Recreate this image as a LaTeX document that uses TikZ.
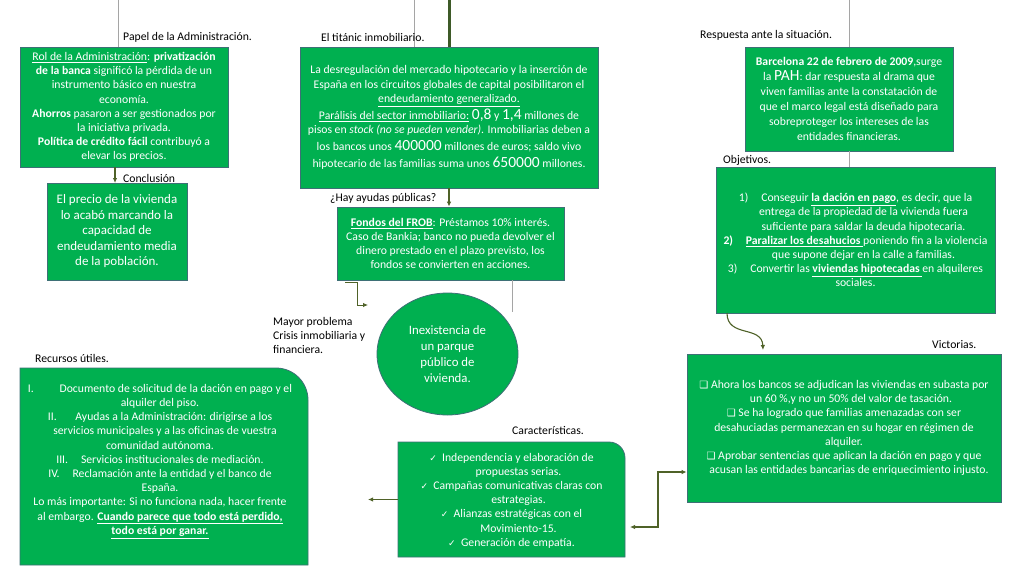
\documentclass[tikz,border=0pt]{standalone}
\usepackage{fontspec}
\setmainfont{Carlito}
\newfontfamily\symfont{DejaVu Sans}
\usetikzlibrary{arrows.meta,shapes.geometric,calc}
\definecolor{boxgreen}{HTML}{00B050}
\definecolor{boxedge}{RGB}{62,112,118}
\definecolor{arrowgreen}{RGB}{79,98,40}
\definecolor{thinline}{RGB}{165,165,165}
\definecolor{thickline}{RGB}{62,90,40}
\newcommand{\bignum}[1]{{\fontsize{15.5}{14}\selectfont #1}}
\newcommand{\chk}{{\symfont\fontsize{9}{9}\selectfont ✓}}
\newcommand{\sqb}{{\symfont\fontsize{10}{10}\selectfont ❑}}
\begin{document}
\begin{tikzpicture}[x=1pt,y=-1pt,
 gbox/.style={draw=boxedge, line width=0.8pt, fill=boxgreen, text=white, align=center, inner sep=0pt, font=\fontsize{11.7}{14.2}\selectfont},
 gtext/.style={text=white, align=center, inner sep=0pt, font=\fontsize{11.7}{14.2}\selectfont},
 gshape/.style={draw=boxedge, line width=0.8pt, fill=boxgreen},
 lbl/.style={anchor=west, inner sep=0pt, font=\fontsize{11.7}{14}\selectfont, text=black, align=left},
 arr/.style={draw=arrowgreen, line width=1.1pt, -{Latex[length=5pt,width=4.5pt]}},
 darr/.style={draw=arrowgreen, line width=1.1pt, {Latex[length=5pt,width=4.5pt]}-{Latex[length=5pt,width=4.5pt]}},
 gline/.style={draw=thinline, line width=1pt},
]
\useasboundingbox[fill=white] (0,0) rectangle (1024,576);

% free-end coordinates
\coordinate (topA) at (118,0);
\coordinate (topB) at (414,0);
\coordinate (topC) at (449,0);
\coordinate (topD) at (849,0);

% top thin lines (behind boxes)
\draw[gline] (topA) -- (118,47);
\draw[gline] (topB) -- (414,47);
\draw[gline] (topD) -- (849,47);
\draw[draw=thickline, line width=3pt] (topC) -- (449,47);

% Box 1
\node[gbox, minimum width=208pt, minimum height=120pt] (rol) at (124,107)
{\underline{Rol de la Administración}: \textbf{privatización}\\
\textbf{de la banca} significó la pérdida de un\\
instrumento básico en nuestra\\
economía.\\
\textbf{Ahorros} pasaron a ser gestionados por\\
la iniciativa privada.\\
\textbf{Política de crédito fácil} contribuyó a\\
elevar los precios.};

% Conclusion
\node[gbox, minimum width=140pt, minimum height=97pt, font=\fontsize{13}{15.5}\selectfont] (concl) at (117,231.5)
{El precio de la vivienda\\
lo acabó marcando la\\
capacidad de\\
endeudamiento media\\
de la población.};

% Middle box
\node[gbox, minimum width=298pt, minimum height=141pt] (mid) at (449,117.5)
{La desregulación del mercado hipotecario y la inserción de\\[1pt]
España en los circuitos globales de capital posibilitaron el\\
\underline{endeudamiento generalizado.}\\[1pt]
\underline{Parálisis del sector inmobiliario:} \bignum{0,8} y \bignum{1,4} millones de\\
pisos en \textit{stock (no se pueden vender)}. Inmobiliarias deben a\\[3pt]
los bancos unos \bignum{400000} millones de euros; saldo vivo\\[3pt]
hipotecario de las familias suma unos \bignum{650000} millones.};

% FROB
\node[gbox, minimum width=227pt, minimum height=73pt] (frob) at (450.5,243.5)
{\underline{\textbf{Fondos del FROB}}: Préstamos 10\% interés.\\
Caso de Bankia; banco no pueda devolver el\\
dinero prestado en el plazo previsto, los\\
fondos se convierten en acciones.};

% PAH
\node[gbox, minimum width=208pt, minimum height=104pt, font=\fontsize{11.7}{15}\selectfont] (pah) at (849,99)
{\textbf{Barcelona 22 de febrero de 2009},surge\\
la \bignum{PAH}: dar respuesta al drama que\\
viven familias ante la constatación de\\
que el marco legal está diseñado para\\
sobreproteger los intereses de las\\
entidades financieras.};

% Objectives
\node[gbox, minimum width=279pt, minimum height=146pt] (obj) at (855.5,240)
{1)\hspace{1.1em}Conseguir \underline{\textbf{la dación en pago}}, es decir, que la\\
\hspace*{16pt}entrega de la propiedad de la vivienda fuera\\
\hspace*{16pt}suficiente para saldar la deuda hipotecaria.\\
\textbf{2)\hspace{1.1em}\underline{Paralizar los desahucios }}poniendo fin a la violencia\\
\hspace*{16pt}que supone dejar en la calle a familias.\\
3)\hspace{1.1em}Convertir las \underline{\textbf{viviendas hipotecadas }}en alquileres\\
sociales.};

% Ellipse
\node[gbox, ellipse, minimum width=141pt, minimum height=122pt, font=\fontsize{12.8}{16}\selectfont] (ell) at (447.5,354)
{Inexistencia de\\un parque\\público de\\vivienda.};

% Recursos (rounded top-right corner)
\draw[gshape] (20,565) -- (20,368) [rounded corners=32pt] -- (308,368) [sharp corners] -- (308,565) -- cycle;
\node[gtext, anchor=north] (rec) at (160,384)
{I.\hspace{2.2em}Documento de solicitud de la dación en pago y el\\
alquiler del piso.\\
II.\hspace{1.6em}Ayudas a la Administración: dirigirse a los\\
\hspace*{10pt}servicios municipales y a las oficinas de vuestra\\
comunidad autónoma.\\
III.\hspace{1.1em}Servicios institucionales de mediación.\\
IV.\hspace{1.1em}Reclamación ante la entidad y el banco de\\
España.\\
Lo más importante: Si no funciona nada, hacer frente\\
al embargo. \underline{\textbf{Cuando parece que todo está perdido,}}\\
\underline{\textbf{todo está por ganar.}}};

% Characteristics (rounded top-right corner)
\draw[gshape] (398,557) -- (398,442) [rounded corners=16pt] -- (625,442) [sharp corners] -- (625,557) -- cycle;
\node[gtext, minimum width=227pt, minimum height=115pt] (char) at (511.5,500.5)
{\chk\ \ Independencia y elaboración de\\
\hspace*{14pt}propuestas serias.\\
\chk\ \ Campañas comunicativas claras con\\
\hspace*{14pt}estrategias.\\
\chk\ \ Alianzas estratégicas con el\\
\hspace*{14pt}Movimiento-15.\\
\chk\ \ Generación de empatía.};

% Victorias
\node[gbox, minimum width=314pt, minimum height=148pt] (vict) at (844,428)
{\sqb\ Ahora los bancos se adjudican las viviendas en subasta por\\
\hspace*{14pt}un 60 \%,y no un 50\% del valor de tasación.\\
\sqb\ Se ha logrado que familias amenazadas con ser\\
desahuciadas permanezcan en su hogar en régimen de\\
alquiler.\\
\sqb\ Aprobar sentencias que aplican la dación en pago y que\\
\hspace*{10pt}acusan las entidades bancarias de enriquecimiento injusto.};

% Labels
\node[lbl] (l1) at (123,37) {Papel de la Administración.};
\node[lbl] (l2) at (321,37) {El titánic inmobiliario.};
\node[lbl] (l3) at (700,35) {Respuesta ante la situación.};
\node[lbl] (l4) at (123,178) {Conclusión};
\node[lbl] (l5) at (330,198) {¿Hay ayudas públicas?};
\node[lbl] (l6) at (723,160) {Objetivos.};
\node[lbl, anchor=north west] (l7) at (273,317) {Mayor problema\\Crisis inmobiliaria y\\financiera.};
\node[lbl] (l8) at (35,358) {Recursos útiles.};
\node[lbl] (l9) at (512,430) {Características.};
\node[lbl] (l10) at (932,345) {Victorias.};

% Connectors
\coordinate (frobA) at (345,282);
\coordinate (frobB) at (368,305);
\coordinate (frobG) at (512,312);
\coordinate (charL) at (368,499.5);
\coordinate (objC) at (763,350);

\draw[gline] (pah.south) -- (pah.south |- obj.north);
\draw[arr] (115,167) -- (115,183);
\draw[arr] (mid.south) -- (mid.south |- frob.north);
\draw[arr, line width=0.9pt] (frobA) -- (357,282) |- (frobB);
\draw[gline] (512,280) -- (frobG);
\draw[arr] (char.west |- 0,499.5) -- (charL);
\draw[darr] (630,527) -- (658,527) |- (vict.west |- 0,472);
\draw[arr] (727,313) .. controls (727,338) and (762,325) .. (objC);
\end{tikzpicture}
\end{document}
